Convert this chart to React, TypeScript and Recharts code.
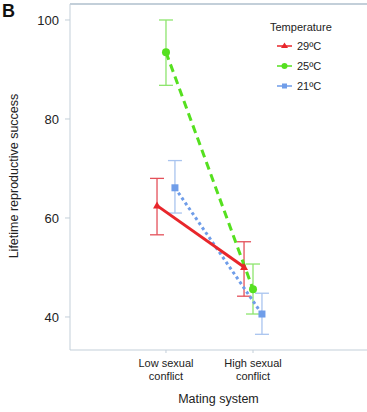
import React from 'react';
import {
    ComposedChart,
    Scatter,
    XAxis,
    YAxis,
    ErrorBar,
    ReferenceLine
} from 'recharts';

const categories = ['Low sexual conflict', 'High sexual conflict'];
const seriesNames = ['29ºC', '25ºC', '21ºC'];

const mean29 = [62.5, 50.1];
const low29 = [56.6, 44.2];
const high29 = [68.0, 55.2];

const mean25 = [93.5, 45.6];
const low25 = [86.8, 40.6];
const high25 = [100.0, 50.7];

const mean21 = [66.1, 40.6];
const low21 = [61.0, 36.5];
const high21 = [71.6, 44.8];

const yTicks = [40, 60, 80, 100];

const AXIS = '#c3cfd9';
const FONT = 'Liberation Sans, Arial, sans-serif';

const build = (mean: number[], low: number[], high: number[], dodge: number) =>
    categories.map((c, i) => ({
        cat: c,
        x: i + 1 + dodge,
        y: mean[i],
        err: [mean[i] - low[i], high[i] - mean[i]]
    }));

const data29 = build(mean29, low29, high29, -0.103);
const data25 = build(mean25, low25, high25, 0);
const data21 = build(mean21, low21, high21, 0.103);

const Triangle = ({ cx, cy, fill }: any) => (
    <path d={`M${cx},${cy - 4} L${cx + 4},${cy + 3} L${cx - 4},${cy + 3} Z`} fill={fill} />
);
const Dot = ({ cx, cy, fill }: any) => <circle cx={cx} cy={cy} r={4} fill={fill} />;
const Square = ({ cx, cy, fill }: any) => (
    <rect x={cx - 3.5} y={cy - 3.5} width={7} height={7} fill={fill} />
);

const XTick = ({ x, y, payload }: any) => {
    const name = categories[Math.round(payload.value) - 1] || '';
    const parts = name.split(' ');
    const first = parts.slice(0, 2).join(' ');
    const second = parts.slice(2).join(' ');
    return (
        <text x={x} y={y} textAnchor="middle" fill="#222" fontSize={11} fontFamily={FONT}>
            <tspan x={x} dy={12}>{first}</tspan>
            <tspan x={x} dy={13}>{second}</tspan>
        </text>
    );
};

const legendItems = [
    { name: seriesNames[0], color: '#e8262b', marker: 'tri' },
    { name: seriesNames[1], color: '#55e01f', marker: 'dot' },
    { name: seriesNames[2], color: '#6f9de9', marker: 'sq' }
];

export default function App() {
    return (
        <div style={{ position: 'absolute', left: 0, top: 0, width: 367, height: 412, background: '#fff' }}>
            <ComposedChart
                width={367}
                height={412}
                margin={{ top: 4, right: 0, left: 0, bottom: 0 }}
            >
                <XAxis
                    type="number"
                    dataKey="x"
                    domain={[-0.103, 3.31]}
                    ticks={[1, 2]}
                    allowDataOverflow
                    height={62}
                    stroke={AXIS}
                    tickSize={3}
                    tick={<XTick />}
                    label={{
                        value: 'Mating system',
                        position: 'insideBottom',
                        offset: 9,
                        fill: '#222',
                        fontSize: 12.5,
                        fontFamily: FONT
                    }}
                />
                <YAxis
                    type="number"
                    dataKey="y"
                    domain={[33.33, 103.23]}
                    ticks={yTicks}
                    allowDataOverflow
                    width={70}
                    stroke={AXIS}
                    tickSize={5}
                    tickMargin={6}
                    tick={{ fill: '#222', fontSize: 13, fontFamily: FONT }}
                />
                <ReferenceLine y={103.23} stroke={AXIS} strokeWidth={2} />
                <Scatter
                    data={data21}
                    fill="#6f9de9"
                    line={{ stroke: '#6f9de9', strokeWidth: 3, strokeDasharray: '3 3' }}
                    lineType="joint"
                    shape={<Square />}
                    isAnimationActive={false}
                >
                    <ErrorBar dataKey="err" direction="y" width={7} stroke="#a9c4ef" strokeWidth={1.3} />
                </Scatter>
                <Scatter
                    data={data25}
                    fill="#55e01f"
                    line={{ stroke: '#55e01f', strokeWidth: 3, strokeDasharray: '8 5' }}
                    lineType="joint"
                    shape={<Dot />}
                    isAnimationActive={false}
                >
                    <ErrorBar dataKey="err" direction="y" width={7} stroke="#8ee56e" strokeWidth={1.3} />
                </Scatter>
                <Scatter
                    data={data29}
                    fill="#e8262b"
                    line={{ stroke: '#e8262b', strokeWidth: 3 }}
                    lineType="joint"
                    shape={<Triangle />}
                    isAnimationActive={false}
                >
                    <ErrorBar dataKey="err" direction="y" width={7} stroke="#e4505a" strokeWidth={1.3} />
                </Scatter>
            </ComposedChart>
            <svg
                width={367}
                height={412}
                style={{ position: 'absolute', left: 0, top: 0, pointerEvents: 'none' }}
                fontFamily={FONT}
            >
                <text x={2} y={17} fontSize={18} fontWeight="bold" fill="#111">B</text>
                <text
                    x={18}
                    y={176}
                    transform="rotate(-90 18 176)"
                    textAnchor="middle"
                    fontSize={12.5}
                    fill="#222"
                >
                    Lifetime reproductive success
                </text>
                <text x={270} y={31} fontSize={11} fill="#222">Temperature</text>
                {legendItems.map((it, i) => {
                    const cy = 46 + i * 20;
                    return (
                        <g key={it.name}>
                            <line x1={277} x2={292} y1={cy} y2={cy} stroke={it.color} strokeWidth={1.5} />
                            {it.marker === 'tri' && (
                                <path d={`M284.5,${cy - 3.5} L288,${cy + 2} L281,${cy + 2} Z`} fill={it.color} />
                            )}
                            {it.marker === 'dot' && <circle cx={284.5} cy={cy} r={3} fill={it.color} />}
                            {it.marker === 'sq' && (
                                <rect x={282} y={cy - 2.5} width={5} height={5} fill={it.color} />
                            )}
                            <text x={297} y={cy + 4} fontSize={11} fill="#222">{it.name}</text>
                        </g>
                    );
                })}
            </svg>
        </div>
    );
}
